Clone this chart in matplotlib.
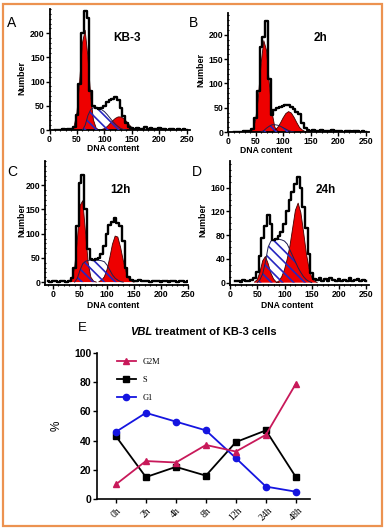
"""Cell cycle histograms (KB-3, VBL treatment) and phase percentages."""
import matplotlib
matplotlib.use('Agg')
import matplotlib.pyplot as plt
from matplotlib.patches import Rectangle
from matplotlib.ticker import MultipleLocator
import numpy as np

plt.rcParams['font.family'] = ['Liberation Sans', 'DejaVu Sans']
plt.rcParams['font.weight'] = 'bold'
plt.rcParams['hatch.linewidth'] = 1.2

# ---- histogram data (DNA content bins of 5, values = cell number) ----
# raw counts, first bin at raw_start
raw_start = {"A": 10, "B": 10, "C": -10, "D": 10}
raw_a = [0, 0, 1, 2, 1, 2, 3, 6,
         30, 95, 200, 245, 232, 80, 50, 46, 44, 45,
         50, 58, 62, 64, 68, 62, 45, 28, 14, 7,
         4, 3, 5, 2, 3, 6, 2, 4, 3, 2,
         4, 2, 3, 1, 2, 3, 1, 2, 1, 2, 1]
raw_b = [0, 0, 0, 1, 2, 3, 3, 7,
         28, 85, 175, 195, 228, 110, 35, 45, 50, 52,
         54, 56, 55, 52, 48, 42, 38, 18, 8, 5,
         3, 4, 2, 3, 5, 2, 3, 2, 4, 2,
         3, 2, 1, 3, 2, 1, 2, 3, 1, 2, 1]
raw_c = [2, 1, 3, 2, 1, 3, 2, 1,
         3, 8, 30, 115, 205, 222, 150, 68, 48, 46,
         48, 50, 58, 75, 100, 118, 125, 132, 122, 115,
         85, 30, 10, 4, 3, 2, 4, 2, 3, 2,
         1, 3, 2, 3, 1, 2, 3, 1, 2, 3,
         1, 2, 3, 1, 2]
raw_d = [2, 3, 1, 4, 2, 3, 5, 8,
         18, 45, 75, 95, 114, 98, 72, 74, 78, 86,
         98, 120, 140, 152, 166, 178, 160, 128, 92, 48,
         16, 6, 4, 8, 3, 6, 2, 7, 4, 3,
         6, 2, 5, 3, 7, 2, 4, 6, 3, 5, 2]

# fitted components: (first bin, values)
g1_a = (40, [2, 8, 36, 101, 180, 206, 151, 71, 21, 4, 0])
s_a = (60, [0, 10, 30, 42, 46, 46, 45, 42, 38, 32, 25, 18, 12, 7, 3, 1, 0])
g2_a = (95, [1, 3, 7, 13, 19, 24, 27, 27, 24, 18, 11, 5, 2, 0])

g1_b = (40, [1, 5, 24, 70, 140, 188, 168, 100, 40, 10, 2, 0])
s_b = (60, [0, 3, 8, 12, 15, 15, 14, 12, 9, 6, 3, 1, 0])
g2_b = (80, [1, 4, 9, 18, 29, 38, 42, 39, 30, 19, 9, 4, 1, 0])

g1_c = (30, [2, 8, 30, 88, 158, 168, 104, 40, 10, 2, 0])
s_c = (40, [0, 8, 25, 38, 43, 45, 45, 45, 45, 45, 44, 42, 35, 25, 15, 8, 4, 1, 0])
g2_c = (85, [1, 4, 11, 26, 50, 78, 95, 93, 72, 45, 22, 8, 2, 0])

g1_d = (45, [1, 5, 18, 37, 44, 32, 16, 6, 1, 0])
s_d = (50, [0, 5, 15, 35, 60, 70, 72, 73, 73, 72, 70, 65, 55, 45, 35, 25, 17, 10, 5, 2, 0])
g2_d = (85, [0, 3, 10, 22, 40, 62, 92, 122, 134, 118, 85, 50, 24, 9, 3, 0])

# ---- panel E: percentages per phase ----
time_labels = ['0h', '2h', '4h', '8h', '12h', '24h', '48h']
g2m_pct = [10, 26, 25, 37, 32.5, 44, 79]
s_pct = [43, 15, 22, 16, 39, 47, 15]
g1_pct = [46, 59, 53, 47, 28, 8.5, 5]

W, H = 386, 531
fig = plt.figure(figsize=(W / 100, H / 100), dpi=100)
fig.patch.set_facecolor('white')


def px_axes(x0, y0, x1, y1):
    # pixel box (left, top, right, bottom) -> figure axes
    return fig.add_axes([x0 / W, 1 - y1 / H, (x1 - x0) / W, (y1 - y0) / H])


def xs(start, n):
    return np.arange(start, start + 5 * n, 5)


def draw_hist(ax, raw, rstart, g1, s, g2, xlim, ylim, ymajor, yminor):
    sx, sv = xs(s[0], len(s[1])), s[1]
    ax.fill_between(sx, 0, sv, facecolor='white', edgecolor='none', zorder=1)
    for comp in (g1, g2):
        cx = xs(comp[0], len(comp[1]))
        ax.fill_between(cx, 0, comp[1], facecolor='#ee0000', edgecolor='none', zorder=2)
        ax.plot(cx, comp[1], color='#400000', lw=0.6, zorder=2.5)
    ax.fill_between(sx, 0, sv, facecolor='none', edgecolor='#2626c0', hatch='\\\\\\',
                    linewidth=0, zorder=3)
    ax.plot(sx, sv, color='#202050', lw=0.7, zorder=3.5)
    rx = xs(rstart, len(raw))
    ax.step(rx, raw, where='mid', color='black', lw=1.7, zorder=4)
    ax.set_xlim(*xlim)
    ax.set_ylim(*ylim)
    ax.set_xticks([0, 50, 100, 150, 200, 250])
    ax.xaxis.set_minor_locator(MultipleLocator(10))
    ax.yaxis.set_major_locator(MultipleLocator(ymajor))
    ax.yaxis.set_minor_locator(MultipleLocator(yminor))
    ax.set_yticks([v for v in ax.get_yticks() if 0 <= v <= ylim[1] - 20])
    for side in ('top', 'right'):
        ax.spines[side].set_visible(False)
    for side in ('left', 'bottom'):
        ax.spines[side].set_linewidth(1.3)
    ax.tick_params(which='major', length=3, width=1, labelsize=6.3, pad=0.5)
    ax.tick_params(which='minor', length=2, width=0.8, direction='inout')
    ax.patch.set_alpha(0)


ax_a = px_axes(49.5, 9, 189.5, 130)
draw_hist(ax_a, raw_a, raw_start['A'], g1_a, s_a, g2_a, (0, 255), (0, 250), 50, 10)
ax_b = px_axes(228, 13, 368.5, 132)
draw_hist(ax_b, raw_b, raw_start['B'], g1_b, s_b, g2_b, (0, 255), (0, 245), 50, 10)
ax_c = px_axes(45, 161, 188, 285)
draw_hist(ax_c, raw_c, raw_start['C'], g1_c, s_c, g2_c, (-15, 250), (-6, 250), 50, 10)
ax_d = px_axes(230, 161, 369, 285)
draw_hist(ax_d, raw_d, raw_start['D'], g1_d, s_d, g2_d, (0, 255), (-4, 205), 40, 10)

# panel texts
for (lx, ly, letter), (tx, ty, tag) in zip(
        [(12, 23, 'A'), (193, 23, 'B'), (12, 172, 'C'), (197, 172, 'D')],
        [(127, 38, 'KB-3'), (320, 38, '2h'), (120, 190, '12h'), (326, 190, '24h')]):
    fig.text(lx / W, 1 - ly / H, letter, fontsize=10, fontweight='normal',
             ha='center', va='center')
    fig.text(tx / W, 1 - ty / H, tag, fontsize=8.5, ha='center', va='center')

for x, y in [(22, 78), (201, 70), (22, 220), (203, 220)]:
    fig.text(x / W, 1 - y / H, 'Number', fontsize=6.5, rotation=90,
             ha='center', va='center')
for x, y in [(113, 148.5), (266, 150.5), (113, 305), (287, 305)]:
    fig.text(x / W, 1 - y / H, 'DNA content', fontsize=6.2, ha='center', va='center')

# ---- panel E ----
ax_e = px_axes(97, 353, 310, 499)
pos = np.arange(len(time_labels))
ax_e.plot(pos, s_pct, color='black', marker='s', ms=4.5, lw=1.3, label='S')
ax_e.plot(pos, g1_pct, color='#1515e0', marker='o', ms=4.5, lw=1.3, label='G1')
ax_e.plot(pos, g2m_pct, color='#c8195a', marker='^', ms=4.5, lw=1.3, label='G2M')
ax_e.set_xlim(-0.63, 6.47)
ax_e.set_ylim(0, 100)
ax_e.set_yticks([0, 20, 40, 60, 80, 100])
ax_e.set_xticks(pos)
ax_e.set_xticklabels(time_labels, rotation=45, ha='center', fontsize=7,
                     fontweight='normal', family='Liberation Serif')
for side in ('top', 'right'):
    ax_e.spines[side].set_visible(False)
for side in ('left', 'bottom'):
    ax_e.spines[side].set_linewidth(1.2)
ax_e.tick_params(axis='y', length=3, width=1, labelsize=7.5, pad=1)
ax_e.tick_params(axis='x', length=3, width=1, pad=2)
ax_e.set_ylabel('%', fontsize=8.5, labelpad=8)

h, l = ax_e.get_legend_handles_labels()
order = [2, 0, 1]
ax_e.legend([h[i] for i in order], [l[i] for i in order], loc='upper left',
            bbox_to_anchor=(0.06, 1.02), frameon=False, handlelength=2.2,
            labelspacing=1.2, prop={'family': 'Liberation Serif', 'size': 6,
                                    'weight': 'normal'})

fig.text(82 / W, 1 - 328 / H, 'E', fontsize=9.5, fontweight='normal',
         ha='center', va='center')
t1 = fig.text(130 / W, 1 - 332 / H, 'VBL', fontsize=8, style='italic',
              ha='left', va='center')
ax_e.annotate(' treatment of KB-3 cells', xy=(1, 0), xycoords=t1,
              fontsize=8, ha='left', va='bottom')

# orange frame
fig.patches.append(Rectangle((3 / W, 5 / H), 379 / W, 522 / H, transform=fig.transFigure,
                             fill=False, edgecolor='#ec9250', linewidth=1.6))

fig.savefig('out.png', dpi=100)
